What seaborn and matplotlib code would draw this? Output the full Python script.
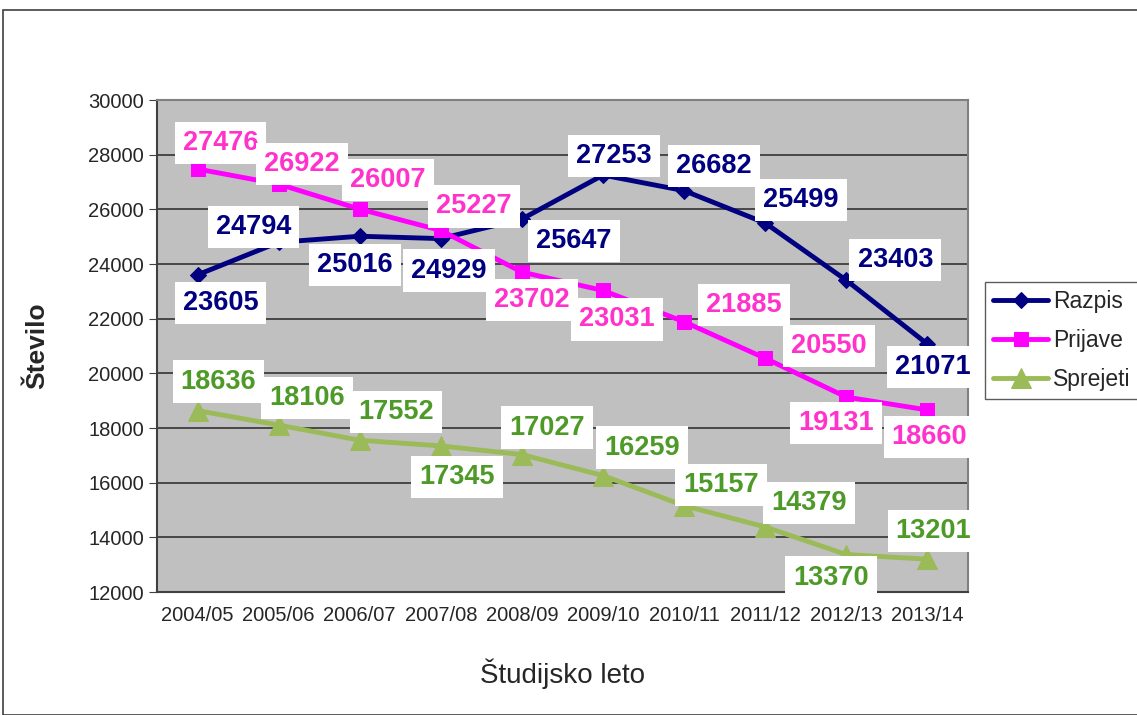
import matplotlib
matplotlib.use("Agg")
import matplotlib.pyplot as plt
from matplotlib.patches import Rectangle
import pandas as pd
import seaborn as sns

# === podatki ===
leta = ["2004/05", "2005/06", "2006/07", "2007/08", "2008/09",
        "2009/10", "2010/11", "2011/12", "2012/13", "2013/14"]
razpis = [23605, 24794, 25016, 24929, 25647, 27253, 26682, 25499, 23403, 21071]
prijave = [27476, 26922, 26007, 25227, 23702, 23031, 21885, 20550, 19131, 18660]
sprejeti = [18636, 18106, 17552, 17345, 17027, 16259, 15157, 14379, 13370, 13201]

# zamiki oznak (v pikslih od tocke, y navzgor)
off_razpis = [(23, -28), (-25, 15), (-5, -29), (8, -32), (52, -22),
              (11, 19), (30, 25), (36, 23), (49, 20), (5, -23)]
off_prijave = [(23, 26), (23, 20), (28, 29), (33, 24), (10, -28),
               (14, -29), (60, 17), (64, 12), (-10, -26), (2, -27)]
off_sprejeti = [(21, 29), (28, 27), (36, 28), (16, -31), (25, 27),
                (39, 28), (37, 21), (44, 24), (-15, -23), (6, 28)]

df = pd.DataFrame({
    "x": list(range(len(leta))) * 3,
    "vrednost": razpis + prijave + sprejeti,
    "serija": ["Razpis"] * 10 + ["Prijave"] * 10 + ["Sprejeti"] * 10,
})

barve = {"Razpis": "#000080", "Prijave": "#FF00FF", "Sprejeti": "#9BBB59"}
barve_txt = {"Razpis": "#000080", "Prijave": "#FF33CC", "Sprejeti": "#4E9A28"}
markerji = {"Razpis": "D", "Prijave": "s", "Sprejeti": "^"}
velikosti = {"Razpis": 8.5, "Prijave": 10, "Sprejeti": 14}

sns.set_style("white")
plt.rcParams["font.family"] = ["Liberation Sans", "DejaVu Sans"]

fig = plt.figure(figsize=(11.37, 7.15), dpi=100)
fig.patches.append(Rectangle((3 / 1137, 0), 1, 705 / 715, transform=fig.transFigure,
                             fill=False, edgecolor="#404040", linewidth=1.2))
ax = fig.add_axes([157 / 1137, 123 / 715, 811 / 1137, 492 / 715])
ax.set_facecolor("#C0C0C0")

for s in ["Razpis", "Prijave", "Sprejeti"]:
    sub = df[df["serija"] == s]
    sns.lineplot(data=sub, x="x", y="vrednost", ax=ax, color=barve[s],
                 marker=markerji[s], markersize=velikosti[s], markeredgecolor=barve[s],
                 linewidth=3.5, label=s, zorder=3)

for s, vals, offs in [("Razpis", razpis, off_razpis),
                      ("Prijave", prijave, off_prijave),
                      ("Sprejeti", sprejeti, off_sprejeti)]:
    for i, (v, o) in enumerate(zip(vals, offs)):
        ax.annotate(str(v), (i, v), xytext=(o[0] * 0.72, o[1] * 0.72),
                    textcoords="offset points", ha="center", va="center",
                    fontsize=19.5, fontweight="bold", color=barve_txt[s], zorder=7,
                    annotation_clip=False,
                    bbox=dict(boxstyle="square,pad=0.3", fc="white", ec="none"))

ax.set_xlim(-0.5, 9.5)
ax.set_ylim(12000, 30000)
ax.set_yticks(range(12000, 30001, 2000))
ax.set_xticks(range(len(leta)))
ax.set_xticklabels(leta)
ax.set_xticks([i - 0.5 for i in range(len(leta) + 1)], minor=True)
ax.tick_params(axis="x", which="major", length=0, labelsize=14.5, pad=10)
ax.tick_params(axis="x", which="minor", length=6, direction="out", color="#404040")
ax.tick_params(axis="y", length=6, direction="out", labelsize=14.5, color="#404040", left=True)
ax.grid(axis="y", color="#333333", linewidth=1.2)
ax.set_axisbelow(True)
for sp in ax.spines.values():
    sp.set_color("#808080")
    sp.set_linewidth(1.5)
ax.spines["left"].set_color("#404040")
ax.spines["bottom"].set_color("#404040")

ax.set_xlabel("Študijsko leto", fontsize=20, labelpad=24)
ax.set_ylabel("Število", fontsize=19, fontweight="bold", labelpad=28)

leg = ax.legend(loc="upper left", bbox_to_anchor=(1.021, 0.630), fontsize=16.5,
                frameon=True, fancybox=False, edgecolor="#333333", handlelength=2.4,
                handletextpad=0.2, borderpad=0.35, labelspacing=0.7,
                borderaxespad=0)
leg.get_frame().set_linewidth(1.0)
leg.set_zorder(4)

plt.savefig("out.png", dpi=100)
